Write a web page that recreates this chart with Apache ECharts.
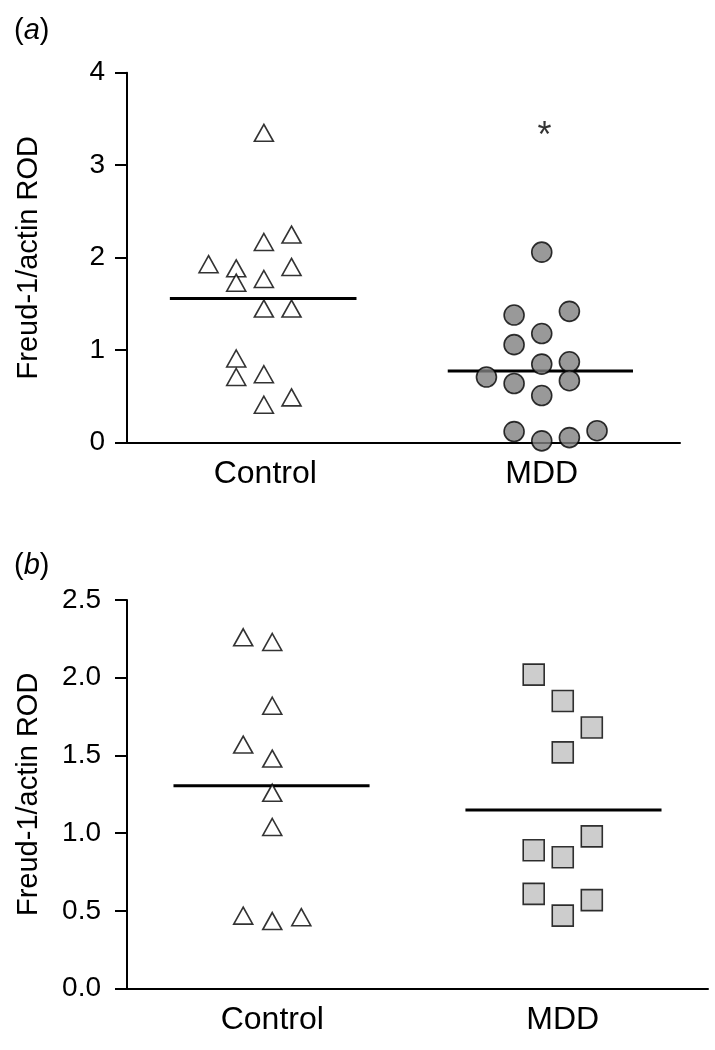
<!DOCTYPE html>
<html><head><meta charset="utf-8">
<script src="https://cdn.jsdelivr.net/npm/echarts@6/dist/echarts.min.js"></script>
<style>html,body{margin:0;padding:0;background:#fff}#c{width:715px;height:1050px}</style>
</head><body><div id="c"></div>
<script>
// ---- data ----
const categories = ['Control', 'MDD'];
const categoryPos = [1, 3];
const yTicksA = [0, 1, 2, 3, 4];
const yTicksB = [0.0, 0.5, 1.0, 1.5, 2.0, 2.5];
const yAxisTitle = 'Freud-1/actin ROD';
const panelLabels = ['a', 'b'];

// Panel (a)
const ctrlA_x = [0.99, 1.19, 0.99, 0.59, 0.79, 1.19, 0.79, 0.99, 0.99, 1.19, 0.79, 0.79, 0.99, 0.99, 1.19];
const ctrlA_y = [3.35, 2.25, 2.17, 1.93, 1.885, 1.90, 1.73, 1.77, 1.45, 1.45, 0.91, 0.71, 0.74, 0.41, 0.49];
const mddA_x = [3.0, 2.8, 3.2, 3.0, 2.8, 3.0, 3.2, 2.6, 2.8, 3.2, 3.0, 2.8, 3.0, 3.2, 3.4];
const mddA_y = [2.06, 1.38, 1.42, 1.18, 1.06, 0.85, 0.875, 0.71, 0.64, 0.67, 0.51, 0.12, 0.02, 0.055, 0.13];
const meanA = [1.56, 0.775];
const meanSpanA = [[0.31, 1.66], [2.32, 3.66]];
const sigA = [3.02, 3.39];
const sigText = '*';

// Panel (b)
const ctrlB_x = [0.8, 1.0, 1.0, 0.8, 1.0, 1.0, 1.0, 0.8, 1.0, 1.2];
const ctrlB_y = [2.26, 2.23, 1.82, 1.57, 1.48, 1.26, 1.04, 0.47, 0.435, 0.46];
const mddB_x = [2.8, 3.0, 3.2, 3.0, 3.2, 2.8, 3.0, 2.8, 3.2, 3.0];
const mddB_y = [2.02, 1.85, 1.68, 1.52, 0.98, 0.89, 0.845, 0.61, 0.57, 0.47];
const meanB = [1.305, 1.15];
const meanSpanB = [[0.32, 1.67], [2.33, 3.68]];

// ---- build ----
const FONT = 'Liberation Sans';
const zip = (xs, ys) => xs.map((x, i) => [x, ys[i]]);
const chart = echarts.init(document.getElementById('c'), null, {renderer: 'canvas'});

function xAxisDef(gi) {
  return {
    type: 'value', gridIndex: gi, min: 0, max: 4, interval: 1,
    axisLine: {show: true, onZero: false, lineStyle: {color: '#000', width: 2}},
    axisTick: {show: false}, splitLine: {show: false},
    axisLabel: {
      margin: 15, color: '#000', fontFamily: FONT, fontSize: 32,
      formatter: v => { const k = categoryPos.indexOf(v); return k >= 0 ? categories[k] : ''; }
    }
  };
}
function yAxisDef(gi, ticks, decimals, labelMargin) {
  return {
    type: 'value', gridIndex: gi, min: ticks[0], max: ticks[ticks.length - 1],
    interval: ticks[1] - ticks[0],
    name: yAxisTitle, nameLocation: 'middle', nameGap: 84,
    nameTextStyle: {color: '#000', fontFamily: FONT, fontSize: 29},
    axisLine: {show: true, lineStyle: {color: '#000', width: 2}},
    axisTick: {show: true, length: 12, lineStyle: {color: '#000', width: 2}},
    splitLine: {show: false},
    axisLabel: {margin: labelMargin, color: '#000', fontFamily: FONT, fontSize: 28,
      formatter: v => v.toFixed(decimals)}
  };
}
function meanLines(gi, spans, means) {
  return spans.map((s, i) => ({
    type: 'line', xAxisIndex: gi, yAxisIndex: gi, z: 1,
    data: [[s[0], means[i]], [s[1], means[i]]],
    symbol: 'none', lineStyle: {color: '#000', width: 3}, silent: true, animation: false
  }));
}
const triStyle = {color: '#fff', borderColor: '#000', borderWidth: 1.6};

const option = {
  animation: false,
  backgroundColor: '#fff',
  title: panelLabels.map((p, i) => ({
    text: '{p|(}{i|' + p + '}{p|)}',
    left: 9, top: i === 0 ? 11 : 546,
    textStyle: {fontWeight: 'normal', rich: {
      p: {fontFamily: FONT, fontSize: 29, fontWeight: 'normal', color: '#000'},
      i: {fontFamily: FONT, fontSize: 29, fontWeight: 'normal', fontStyle: 'italic', color: '#000'}
    }}
  })),
  grid: [
    {left: 127, top: 72.7, width: 553, height: 370},
    {left: 127, top: 600, width: 581, height: 388.7}
  ],
  xAxis: [xAxisDef(0), xAxisDef(1)],
  yAxis: [yAxisDef(0, yTicksA, 0, 22), yAxisDef(1, yTicksB, 1, 26)],
  series: [
    ...meanLines(0, meanSpanA, meanA),
    {type: 'scatter', xAxisIndex: 0, yAxisIndex: 0, z: 3, symbol: 'triangle', symbolSize: [19, 17],
      itemStyle: triStyle, data: zip(ctrlA_x, ctrlA_y)},
    {type: 'scatter', xAxisIndex: 0, yAxisIndex: 0, z: 3, symbol: 'circle', symbolSize: 20,
      itemStyle: {color: '#808080', borderColor: '#000', borderWidth: 1.6}, data: zip(mddA_x, mddA_y)},
    {type: 'scatter', xAxisIndex: 0, yAxisIndex: 0, z: 4, symbol: 'circle', symbolSize: 2,
      itemStyle: {color: 'rgba(0,0,0,0)'},
      data: [sigA], label: {show: true, position: 'inside', formatter: sigText,
        fontFamily: FONT, fontSize: 36, color: '#000', offset: [0, 8]}},
    ...meanLines(1, meanSpanB, meanB),
    {type: 'scatter', xAxisIndex: 1, yAxisIndex: 1, z: 3, symbol: 'triangle', symbolSize: [19, 17],
      itemStyle: triStyle, data: zip(ctrlB_x, ctrlB_y)},
    {type: 'scatter', xAxisIndex: 1, yAxisIndex: 1, z: 3, symbol: 'rect', symbolSize: 21,
      itemStyle: {color: '#c0c0c0', borderColor: '#000', borderWidth: 1.6}, data: zip(mddB_x, mddB_y)}
  ]
};
chart.setOption(option);
</script></body></html>
